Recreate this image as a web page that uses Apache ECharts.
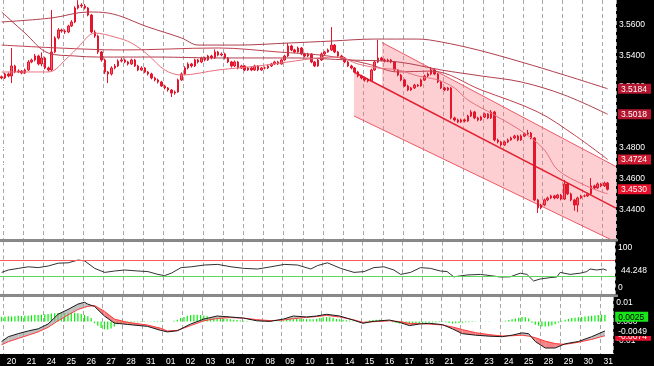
<!DOCTYPE html>
<html>
<head>
<meta charset="utf-8">
<script src="https://cdn.jsdelivr.net/npm/echarts@6.0.0/dist/echarts.min.js"></script>
<style>
html,body{margin:0;padding:0;background:#000;overflow:hidden}
#chart{width:654px;height:366px}
</style>
</head>
<body>
<div id="chart"></div>
<script>
// ---------------- data ----------------
const days = ['20','21','24','25','26','27','28','31','01','02','03','04','07','08','09','10','11','14','15','16','17','18','21','22','23','24','25','28','29','30','31'];
const barsPerDay = 6;      // 4-hour bars
const leadBars = 1;        // one bar of the previous session at the left edge
const slotCount = 185;     // bar slots on the time axis (incl. right margin)

// [open, close, low, high]
const candles = [
 [3.5262,3.5254,3.5245,3.5270],
 // 20
 [3.5254,3.5280,3.5247,3.5288],[3.5280,3.5267,3.5258,3.5290],[3.5267,3.5332,3.5221,3.5449],[3.5332,3.5293,3.5285,3.5340],[3.5293,3.5299,3.5286,3.5310],[3.5299,3.5286,3.5278,3.5305],
 // 21
 [3.5286,3.5306,3.5280,3.5315],[3.5306,3.5358,3.5300,3.5370],[3.5358,3.5371,3.5350,3.5380],[3.5371,3.5397,3.5362,3.5410],[3.5397,3.5345,3.5336,3.5405],[3.5345,3.5384,3.5330,3.5420],
 // 24
 [3.5384,3.5319,3.5310,3.5392],[3.5319,3.5306,3.5296,3.5328],[3.5306,3.5423,3.5300,3.5696],[3.5423,3.5514,3.5415,3.5525],[3.5514,3.5566,3.5505,3.5578],[3.5566,3.5559,3.5548,3.5575],
 // 25
 [3.5559,3.5553,3.5540,3.5570],[3.5553,3.5592,3.5545,3.5600],[3.5592,3.5618,3.5585,3.5630],[3.5618,3.5709,3.5610,3.5720],[3.5709,3.5728,3.5700,3.5760],[3.5728,3.5722,3.5710,3.5740],
 // 26
 [3.5722,3.5709,3.5700,3.5735],[3.5709,3.5663,3.5655,3.5715],[3.5663,3.5553,3.5545,3.5670],[3.5553,3.5527,3.5515,3.5565],[3.5527,3.5423,3.5410,3.5535],[3.5423,3.5371,3.5360,3.5430],
 // 27
 [3.5371,3.5293,3.5280,3.5380],[3.5293,3.5280,3.5221,3.5300],[3.5280,3.5319,3.5270,3.5330],[3.5319,3.5332,3.5310,3.5345],[3.5332,3.5364,3.5325,3.5375],[3.5364,3.5371,3.5355,3.5385],
 // 28
 [3.5371,3.5358,3.5350,3.5380],[3.5358,3.5345,3.5335,3.5365],[3.5345,3.5371,3.5338,3.5380],[3.5371,3.5332,3.5325,3.5378],[3.5332,3.5306,3.5298,3.5340],[3.5306,3.5319,3.5300,3.5330],
 // 31
 [3.5319,3.5293,3.5285,3.5325],[3.5293,3.5280,3.5270,3.5300],[3.5280,3.5254,3.5245,3.5288],[3.5254,3.5241,3.5232,3.5262],[3.5241,3.5228,3.5218,3.5250],[3.5228,3.5202,3.5195,3.5235],
 // 01
 [3.5202,3.5189,3.5180,3.5210],[3.5189,3.5176,3.5165,3.5195],[3.5176,3.5156,3.5130,3.5182],[3.5156,3.5163,3.5145,3.5172],[3.5163,3.5241,3.5158,3.5250],[3.5241,3.5280,3.5235,3.5290],
 // 02
 [3.5280,3.5319,3.5272,3.5330],[3.5319,3.5345,3.5310,3.5355],[3.5345,3.5332,3.5322,3.5352],[3.5332,3.5371,3.5325,3.5380],[3.5371,3.5358,3.5348,3.5378],[3.5358,3.5384,3.5350,3.5392],
 // 03
 [3.5384,3.5371,3.5362,3.5392],[3.5371,3.5397,3.5365,3.5405],[3.5397,3.5384,3.5375,3.5405],[3.5384,3.5423,3.5378,3.5440],[3.5423,3.5403,3.5395,3.5430],[3.5403,3.5410,3.5395,3.5420],
 // 04
 [3.5410,3.5384,3.5375,3.5418],[3.5384,3.5358,3.5350,3.5390],[3.5358,3.5332,3.5322,3.5365],[3.5332,3.5358,3.5325,3.5368],[3.5358,3.5319,3.5310,3.5365],[3.5319,3.5332,3.5312,3.5340],
 // 07
 [3.5332,3.5306,3.5298,3.5338],[3.5306,3.5319,3.5300,3.5326],[3.5319,3.5306,3.5298,3.5326],[3.5306,3.5332,3.5300,3.5340],[3.5332,3.5306,3.5298,3.5338],[3.5306,3.5319,3.5300,3.5326],
 // 08
 [3.5319,3.5319,3.5310,3.5328],[3.5319,3.5332,3.5312,3.5340],[3.5332,3.5345,3.5325,3.5352],[3.5345,3.5358,3.5338,3.5366],[3.5358,3.5345,3.5338,3.5365],[3.5345,3.5371,3.5340,3.5380],
 // 09
 [3.5371,3.5397,3.5365,3.5405],[3.5397,3.5462,3.5390,3.5481],[3.5462,3.5436,3.5428,3.5470],[3.5436,3.5423,3.5415,3.5444],[3.5423,3.5449,3.5418,3.5458],[3.5449,3.5410,3.5402,3.5455],
 // 10
 [3.5410,3.5397,3.5388,3.5418],[3.5397,3.5410,3.5390,3.5418],[3.5410,3.5358,3.5350,3.5415],[3.5358,3.5332,3.5325,3.5365],[3.5332,3.5371,3.5326,3.5380],[3.5371,3.5410,3.5365,3.5420],
 // 11
 [3.5410,3.5423,3.5402,3.5430],[3.5423,3.5436,3.5418,3.5445],[3.5436,3.5468,3.5430,3.5585],[3.5468,3.5423,3.5415,3.5475],[3.5423,3.5397,3.5390,3.5430],[3.5397,3.5384,3.5375,3.5405],
 // 14
 [3.5384,3.5358,3.5350,3.5390],[3.5358,3.5332,3.5325,3.5365],[3.5332,3.5319,3.5310,3.5340],[3.5319,3.5293,3.5285,3.5325],[3.5293,3.5267,3.5258,3.5300],[3.5267,3.5254,3.5245,3.5275],
 // 15
 [3.5254,3.5241,3.5230,3.5262],[3.5241,3.5234,3.5225,3.5250],[3.5234,3.5306,3.5228,3.5315],[3.5306,3.5358,3.5300,3.5368],[3.5358,3.5384,3.5350,3.5501],[3.5384,3.5371,3.5362,3.5392],
 // 16
 [3.5371,3.5364,3.5355,3.5380],[3.5364,3.5371,3.5356,3.5380],[3.5371,3.5358,3.5350,3.5378],[3.5358,3.5306,3.5298,3.5365],[3.5306,3.5273,3.5265,3.5312],[3.5273,3.5241,3.5232,3.5280],
 // 17
 [3.5241,3.5202,3.5195,3.5248],[3.5202,3.5176,3.5168,3.5210],[3.5176,3.5189,3.5170,3.5196],[3.5189,3.5208,3.5182,3.5216],[3.5208,3.5202,3.5195,3.5215],[3.5202,3.5241,3.5196,3.5250],
 // 18
 [3.5241,3.5267,3.5235,3.5275],[3.5267,3.5280,3.5260,3.5290],[3.5280,3.5306,3.5272,3.5325],[3.5306,3.5280,3.5272,3.5312],[3.5280,3.5228,3.5220,3.5286],[3.5228,3.5189,3.5182,3.5235],
 // 21
 [3.5189,3.5176,3.5168,3.5196],[3.5176,3.5189,3.5170,3.5196],[3.5189,3.4994,3.4985,3.5195],[3.4994,3.4981,3.4972,3.5002],[3.4981,3.4968,3.4960,3.4990],[3.4968,3.4981,3.4962,3.4990],
 // 22
 [3.4981,3.4974,3.4965,3.4990],[3.4974,3.5007,3.4968,3.5015],[3.5007,3.5033,3.5000,3.5046],[3.5033,3.4994,3.4986,3.5040],[3.4994,3.4981,3.4972,3.5002],[3.4981,3.5000,3.4975,3.5008],
 // 23
 [3.5000,3.5020,3.4993,3.5028],[3.5020,3.4994,3.4986,3.5026],[3.4994,3.5033,3.4988,3.5046],[3.5033,3.4851,3.4842,3.5040],[3.4851,3.4838,3.4828,3.4860],[3.4838,3.4818,3.4808,3.4845],
 // 24
 [3.4818,3.4838,3.4812,3.4846],[3.4838,3.4851,3.4830,3.4860],[3.4851,3.4864,3.4845,3.4872],[3.4864,3.4877,3.4856,3.4885],[3.4877,3.4851,3.4842,3.4884],[3.4851,3.4877,3.4845,3.4886],
 // 25
 [3.4877,3.4890,3.4870,3.4898],[3.4890,3.4896,3.4882,3.4916],[3.4896,3.4864,3.4855,3.4903],[3.4864,3.4461,3.4452,3.4870],[3.4461,3.4409,3.4376,3.4468],[3.4409,3.4428,3.4400,3.4436],
 // 28
 [3.4428,3.4461,3.4420,3.4470],[3.4461,3.4474,3.4452,3.4482],[3.4474,3.4487,3.4466,3.4495],[3.4487,3.4474,3.4465,3.4494],[3.4474,3.4493,3.4467,3.4500],[3.4493,3.4467,3.4458,3.4500],
 // 29
 [3.4467,3.4565,3.4460,3.4590],[3.4565,3.4500,3.4492,3.4572],[3.4500,3.4461,3.4452,3.4508],[3.4461,3.4428,3.4390,3.4468],[3.4428,3.4474,3.4382,3.4482],[3.4474,3.4487,3.4466,3.4495],
 // 30
 [3.4487,3.4487,3.4478,3.4496],[3.4487,3.4500,3.4480,3.4508],[3.4500,3.4552,3.4494,3.4603],[3.4552,3.4539,3.4530,3.4560],[3.4539,3.4565,3.4532,3.4575],[3.4565,3.4552,3.4543,3.4572],
 // 31
 [3.4552,3.4571,3.4545,3.4580],[3.4571,3.4530,3.4522,3.4578]
];

// moving averages: [bar index, price]
const maSlow = [[0,3.5618],[15,3.5644],[26,3.5683],[32,3.5676],[44,3.5585],[54,3.5514],[59,3.5468],[71,3.5468],[86,3.5481],[99,3.5494],[112,3.5507],[125,3.5507],[132,3.5488],[143,3.5436],[156,3.5358],[169,3.5273],[182,3.5184]];
const maLong = [[0,3.5683],[7,3.5546],[14,3.5416],[22,3.5397],[29,3.5390],[47,3.5390],[65,3.5384],[89,3.5384],[104,3.5371],[119,3.5358],[132,3.5306],[144,3.5267],[156,3.5228],[169,3.5143],[182,3.5018]];
const maMid = [[0,3.5468],[17,3.5449],[36,3.5436],[65,3.5449],[83,3.5423],[98,3.5397],[110,3.5345],[119,3.5293],[129,3.5299],[144,3.5176],[161,3.5033],[172,3.4883],[182,3.4724]];
const maFast = [[0,3.5293],[14,3.5293],[20,3.5390],[23,3.5455],[28,3.5546],[34,3.5520],[39,3.5481],[44,3.5403],[49,3.5306],[54,3.5273],[65,3.5306],[77,3.5332],[86,3.5358],[95,3.5384],[101,3.5390],[107,3.5345],[113,3.5319],[119,3.5306],[125,3.5267],[131,3.5241],[136,3.5189],[140,3.5111],[148,3.5013],[157,3.4896],[163,3.4786],[167,3.4656],[175,3.4558],[181,3.4506],[182,3.4503]];

// regression channel anchors: [bar index, price]
const channel = {
  upper:  [[114.2,3.5485],[184.5,3.4678]],
  middle: [[105.8,3.5293],[184.5,3.4408]],
  lower:  [[105.8,3.5007],[184.5,3.4187]]
};
const channelFills = [
  {from:105.8, to:114.2, top:'middle', bottom:'lower'},
  {from:114.2, to:184.5, top:'upper',  bottom:'lower'}
];

const priceLabels = [3.44,3.46,3.48,3.50,3.52,3.54,3.56];
const priceTicks = [3.43,3.44,3.45,3.46,3.47,3.48,3.49,3.50,3.51,3.52,3.53,3.54,3.55,3.56,3.57];
const priceTags = [3.5184,3.5018,3.4724,3.4530];

// RSI
const rsiIdx = [0,2,5,8,11,14,17,20,23,25,28,31,34,37,41,44,47,49,51,54,57,61,65,69,73,77,81,85,89,93,95,98,102,106,109,112,115,118,120,123,126,129,132,134,136,140,144,147,150,153,156,158,160,162,165,167,168,171,174,176,177,179,181,182];
const rsiVal = [39,45,49,53,51,55,62,63,70,67.5,49,39,42.5,45,42.5,41,34,31,37,51,53,57.5,59,53,49,47.5,53,59,57.5,47.5,56,63,49,39,41,51,53,45,34,39,51,49,42.5,41,28,32.5,34,31,27.5,28,37,34,17.5,22.5,26,27.5,39,34,37,41,47.5,45,47.5,44.248];
const rsiLevels = [70,30];
const rsiLabels = [100,0];
const rsiTags = [44.248];

// MACD
const macdIdx = [0,2,5,8,11,14,17,20,23,25,26,28,31,34,38,44,48,50,53,57,61,65,69,73,77,81,85,88,92,95,98,102,106,109,112,117,120,123,126,129,133,136,139,143,147,151,154,157,159,161,164,167,170,174,178,182];
const macdMain = [-0.0104,-0.0079,-0.0063,-0.0049,-0.0038,-0.0013,0.0038,0.0063,0.0091,0.0101,0.0091,0.0079,0.0029,-0.0008,-0.0015,-0.0025,-0.0046,-0.0054,-0.0048,-0.0013,0.0013,0.0029,0.0024,0.0018,0.0004,0.0001,0.0013,0.0029,0.0024,0.0029,0.0038,0.0029,0.0008,-0.0009,0.0001,0.0008,-0.0004,-0.0021,-0.0013,-0.0009,-0.0016,-0.0038,-0.0063,-0.0071,-0.0076,-0.0079,-0.0071,-0.0059,-0.0063,-0.0104,-0.0138,-0.0138,-0.0116,-0.0104,-0.0079,-0.0049];
const macdSignal = [-0.0121,-0.0105,-0.0088,-0.0071,-0.0054,-0.0030,0.0004,0.0034,0.0063,0.0074,0.0079,0.0084,0.0054,0.0013,-0.0004,-0.0018,-0.0035,-0.0049,-0.0046,-0.0021,0.0004,0.0016,0.0021,0.0018,0.0010,0.0005,0.0008,0.0015,0.0022,0.0026,0.0032,0.0024,0.0010,-0.0004,-0.0001,0.0004,0.0000,-0.0009,-0.0011,-0.0013,-0.0018,-0.0028,-0.0042,-0.0058,-0.0068,-0.0075,-0.0074,-0.0071,-0.0076,-0.0084,-0.0102,-0.0115,-0.0119,-0.0108,-0.0093,-0.0074];
const histogram = [
 0.0025,0.0027,0.0028,0.0026,0.0028,0.0030,0.0029,0.0031,0.0030,
 0.0033,0.0035,0.0034,0.0036,0.0038,0.0040,0.0042,0.0044,0.0045,0.0046,0.0045,0.0046,0.0047,0.0046,0.0044,
 0.0040,0.0035,0.0028,0.0018,
 -0.0008,-0.0022,-0.0034,-0.0040,-0.0042,-0.0036,-0.0026,-0.0014,
 -0.0008,-0.0006,-0.0005,-0.0004,-0.0003,-0.0003,-0.0002,-0.0002,-0.0001,-0.0001,-0.0002,-0.0003,-0.0002,-0.0001,0.0000,0.0001,0.0004,0.0010,
 0.0018,0.0024,0.0030,0.0034,0.0036,0.0036,0.0034,0.0032,0.0028,0.0024,
 0.0020,0.0018,0.0016,0.0015,0.0014,0.0012,0.0010,0.0008,0.0006,0.0004,0.0003,0.0002,
 0.0001,0.0000,-0.0001,-0.0002,-0.0002,-0.0001,0.0000,0.0002,0.0004,0.0006,0.0010,
 0.0014,0.0016,0.0016,0.0015,0.0014,0.0013,0.0012,0.0012,0.0014,0.0018,0.0022,0.0024,0.0022,
 0.0018,0.0014,0.0012,0.0010,0.0007,0.0004,0.0002,
 0.0000,-0.0002,0.0000,0.0003,0.0006,0.0008,
 0.0010,0.0010,0.0008,
 0.0004,0.0000,-0.0004,-0.0008,-0.0010,-0.0012,-0.0012,-0.0011,-0.0010,-0.0009,-0.0008,-0.0007,-0.0006,-0.0005,-0.0004,-0.0003,
 -0.0002,-0.0002,-0.0004,-0.0008,-0.0010,-0.0009,-0.0008,-0.0006,-0.0004,-0.0003,-0.0002,
 -0.0001,0.0000,0.0001,0.0001,0.0002,0.0001,0.0000,0.0001,0.0002,0.0004,0.0008,0.0012,0.0016,
 0.0020,0.0024,0.0022,0.0016,
 -0.0006,-0.0016,-0.0022,-0.0026,-0.0026,-0.0024,-0.0020,-0.0014,-0.0006,
 0.0004,0.0010,0.0014,0.0018,0.0020,0.0022,0.0024,0.0026,0.0028,0.0030,0.0032,0.0034,0.0036,0.0036
];
const macdLabels = [0.01,0,-0.01];
const macdTags = [0.0025,-0.0049,-0.0074];

// ---------------- chart ----------------
const FONT = 'Liberation Sans';
const categories = [];
for (let i = 0; i < slotCount; i++) {
  const d = Math.floor((i - leadBars) / barsPerDay);
  categories.push(i < leadBars ? '19' : (days[d] || ''));
}
const isDayStart = i => i >= leadBars && (i - leadBars) % barsPerDay === 0;
const isLabelSlot = i => i >= leadBars && (i - leadBars) % barsPerDay === 2;
const onLine = (line, x) => { const a = line[0], b = line[1]; return a[1] + (x - a[0]) / (b[0] - a[0]) * (b[1] - a[1]); };

const txt = {color:'#fff', fontSize:8.5, fontFamily:FONT};
function catAxis(gi, showLabels) {
  return {type:'category', gridIndex:gi, data:categories, boundaryGap:true,
    axisLine:{show:false}, axisTick:{show:false},
    axisLabel:Object.assign({show:showLabels, interval:(i)=>isLabelSlot(i), margin:3}, txt),
    splitLine:{show:true, interval:(i)=>isDayStart(i), lineStyle:{color:'#a6a6a6', width:1, type:[4,3]}}};
}
function valAxis(gi) { return {type:'value', gridIndex:gi, min:-0.5, max:slotCount-0.5, show:false}; }
function rightAxis(gi, min, max, labels, ticks, fmt) {
  return {type:'value', gridIndex:gi, position:'right', min, max, scale:true, z:1,
    axisLine:{show:false}, splitLine:{show:false},
    axisTick:{show:true, length:3, lineStyle:{color:'#fff'}, customValues:ticks},
    axisLabel:Object.assign({margin:3, customValues:labels, formatter:fmt, showMinLabel:true, showMaxLabel:true}, txt)};
}
// each value tag is drawn as its own overlaid right axis carrying one boxed label
function tagAxis(gi, min, max, value, text, style, z) {
  return {type:'value', gridIndex:gi, position:'right', min, max, scale:true, z,
    axisLine:{show:false}, splitLine:{show:false}, axisTick:{show:false},
    axisLabel:{margin:2, customValues:[value], showMinLabel:true, showMaxLabel:true, hideOverlap:false,
      formatter:() => '{t|' + text + '}',
      rich:{t:Object.assign({fontSize:8.5, fontFamily:FONT, padding:[1,4,0,3], lineHeight:10}, style)}}};
}
const maLine = (data, color, width) => ({type:'line', xAxisIndex:3, yAxisIndex:0, data, symbol:'none', smooth:0.35,
  lineStyle:{color, width}, z:4, silent:true});

const PRICE_MIN = 3.420687, PRICE_MAX = 3.576093;
const RSI_MIN = -16.25, RSI_MAX = 116.25;
const MACD_MIN = -0.016923, MACD_MAX = 0.012821;

const priceTagStyles = [{color:'#fff', backgroundColor:'#b3152e'},{color:'#fff', backgroundColor:'#b3152e'},{color:'#fff', backgroundColor:'#cc1a30'},{color:'#fff', backgroundColor:'#e8102a'}];
const macdTagStyles = [{color:'#000', backgroundColor:'#19e619'},{color:'#fff', backgroundColor:'#000'},{color:'#fff', backgroundColor:'#e8102a'}];
const macdTagZ = [6, 8, 7];

const option = {
  animation:false,
  backgroundColor:'#000',
  textStyle:{fontFamily:FONT},
  grid:[
    {left:0, top:0, width:618, height:239, show:true, backgroundColor:'#fff', borderWidth:0},
    {left:0, top:241.5, width:618, height:53, show:true, backgroundColor:'#fff', borderWidth:0},
    {left:0, top:297, width:618, height:58, show:true, backgroundColor:'#fff', borderWidth:0}
  ],
  xAxis:[catAxis(0,false), catAxis(1,false), catAxis(2,true), valAxis(0), valAxis(1), valAxis(2)],
  yAxis:[
    rightAxis(0, PRICE_MIN, PRICE_MAX, priceLabels, priceTicks, v => v.toFixed(4)),
    rightAxis(1, RSI_MIN, RSI_MAX, rsiLabels, rsiLabels, v => (Math.round(v)).toString()),
    rightAxis(2, MACD_MIN, MACD_MAX, macdLabels, macdLabels, v => Math.abs(v) < 1e-9 ? '0.000' : v.toFixed(2)),
    ...priceTags.map((v,k) => tagAxis(0, PRICE_MIN, PRICE_MAX, v, v.toFixed(4), priceTagStyles[k], 5 + k)),
    ...rsiTags.map(v => tagAxis(1, RSI_MIN, RSI_MAX, v, v.toFixed(3), {color:'#fff', padding:[1,4,0,4]}, 5)),
    ...macdTags.map((v,k) => tagAxis(2, MACD_MIN, MACD_MAX, v, v.toFixed(4), macdTagStyles[k], macdTagZ[k]))
  ],
  graphic:[
    {type:'rect', z:100, shape:{x:0, y:239, width:618, height:2.5}, style:{fill:'#8a8a8a'}},
    {type:'rect', z:100, shape:{x:0, y:294.5, width:618, height:2.5}, style:{fill:'#8a8a8a'}}
  ],
  series:[
    {type:'custom', xAxisIndex:3, yAxisIndex:0, clip:true, z:1, silent:true,
      data:channelFills.map(f => [f.from, onLine(channel[f.top], f.from)]),
      renderItem:(params, api) => {
        const f = channelFills[params.dataIndex];
        const t = channel[f.top], b = channel[f.bottom];
        const pts = [[f.from,onLine(t,f.from)],[f.to,onLine(t,f.to)],[f.to,onLine(b,f.to)],[f.from,onLine(b,f.from)]].map(p => api.coord(p));
        return {type:'polygon', shape:{points:pts}, style:{fill:'rgba(248,110,122,0.33)'}};
      }},
    ...['upper','middle','lower'].map(k => ({type:'line', xAxisIndex:3, yAxisIndex:0, data:channel[k], symbol:'none', silent:true, z:2,
      lineStyle:{color: k==='middle' ? '#e3202f' : '#ea5a66', width: k==='middle' ? 1.5 : 1}})),
    {type:'candlestick', xAxisIndex:0, yAxisIndex:0, data:candles, barWidth:2, z:3, silent:true,
      itemStyle:{color:'#f25c6a', color0:'#e3162c', borderColor:'#e3162c', borderColor0:'#e3162c', borderWidth:1}},
    maLine(maSlow, '#b23e4e', 1),
    maLine(maLong, '#b23e4e', 1),
    maLine(maMid, '#c0404f', 1),
    maLine(maFast, '#e8707c', 1),
    {type:'line', xAxisIndex:4, yAxisIndex:1, data:rsiIdx.map((x,k) => [x, rsiVal[k]]), symbol:'none', silent:true, z:4,
      lineStyle:{color:'#333', width:1},
      markLine:{silent:true, symbol:['none','none'], animation:false, label:{show:false}, data:[
        {yAxis:rsiLevels[0], lineStyle:{color:'#ff5a5a', width:1, type:'solid'}},
        {yAxis:rsiLevels[1], lineStyle:{color:'#5cd65c', width:1, type:'solid'}}
      ]}},
    {type:'bar', xAxisIndex:2, yAxisIndex:2, data:histogram, barWidth:1.2, silent:true, z:2,
      itemStyle:{color:'#00f000'}},
    {type:'custom', xAxisIndex:5, yAxisIndex:2, clip:true, z:3, silent:true,
      data:macdIdx.slice(0,-1).map((x,j) => [x, macdMain[j]]),
      renderItem:(params, api) => {
        const j = params.dataIndex;
        const x1 = macdIdx[j], x2 = macdIdx[j+1];
        const m1 = macdMain[j], m2 = macdMain[j+1], s1 = macdSignal[j], s2 = macdSignal[j+1];
        const d1 = m1 - s1, d2 = m2 - s2;
        const col = d => d >= 0 ? 'rgba(165,165,165,0.7)' : 'rgba(240,90,95,0.75)';
        const polys = [];
        if (d1 * d2 < 0) {
          const t = d1 / (d1 - d2), xc = x1 + t*(x2-x1), yc = m1 + t*(m2-m1);
          polys.push({p:[[x1,m1],[xc,yc],[x1,s1]], c:col(d1)});
          polys.push({p:[[xc,yc],[x2,m2],[x2,s2]], c:col(d2)});
        } else {
          polys.push({p:[[x1,m1],[x2,m2],[x2,s2],[x1,s1]], c:col(d1+d2)});
        }
        return {type:'group', children:polys.map(q => ({type:'polygon', shape:{points:q.p.map(pt => api.coord(pt))}, style:{fill:q.c}}))};
      }},
    {type:'line', xAxisIndex:5, yAxisIndex:2, data:macdIdx.map((x,k) => [x, macdSignal[k]]), symbol:'none', silent:true, z:4,
      lineStyle:{color:'#ff3b3b', width:1}},
    {type:'line', xAxisIndex:5, yAxisIndex:2, data:macdIdx.map((x,k) => [x, macdMain[k]]), symbol:'none', silent:true, z:5,
      lineStyle:{color:'#1a1a1a', width:1}}
  ]
};
const chart = echarts.init(document.getElementById('chart'));
chart.setOption(option);
</script>
</body>
</html>
